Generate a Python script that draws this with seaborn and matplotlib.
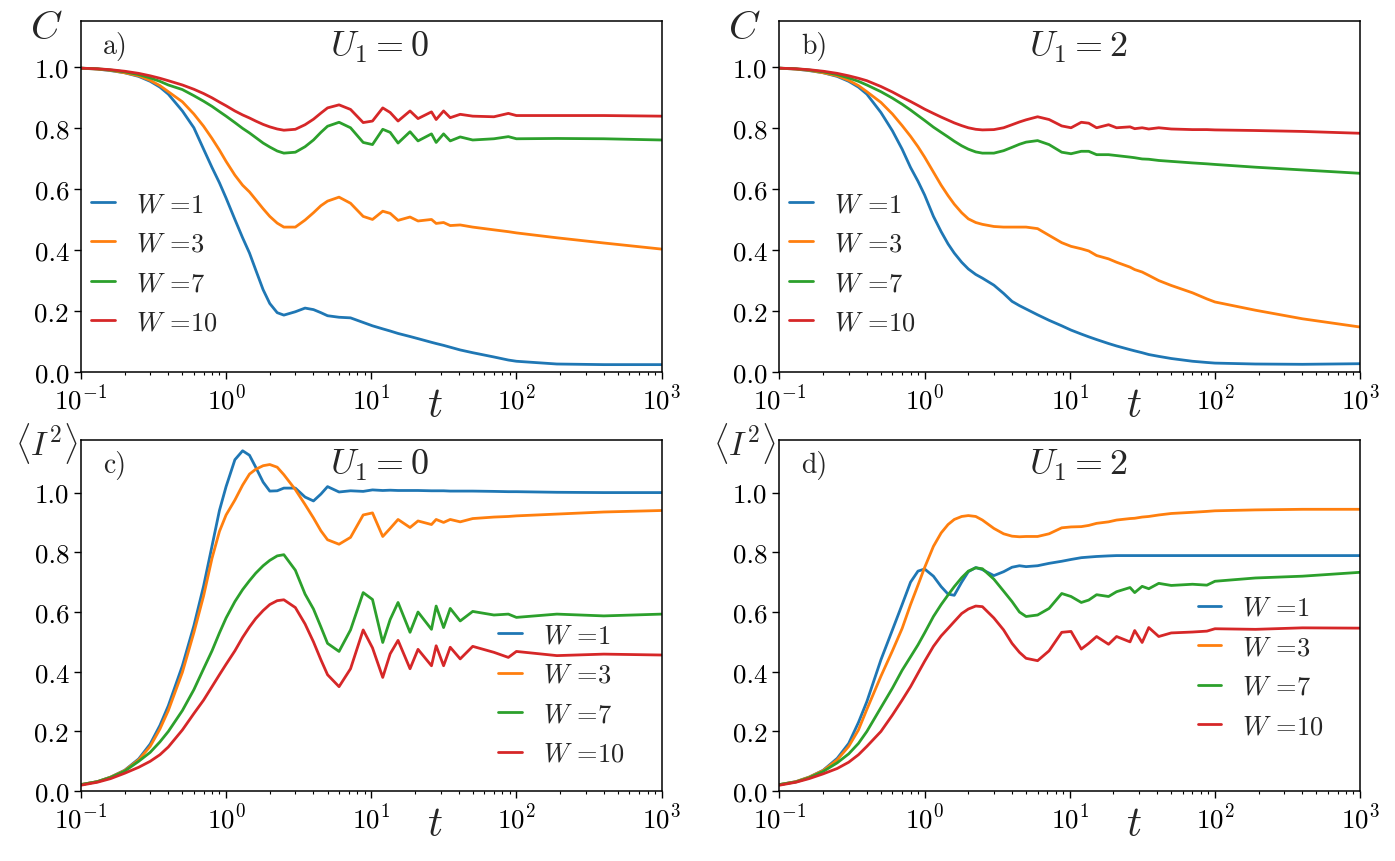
import matplotlib
matplotlib.use("Agg")
import matplotlib.pyplot as plt
import pandas as pd
import seaborn as sns

# time grid (log-spaced sampling)
t_vals = [0.1, 0.13, 0.16, 0.2, 0.25, 0.3, 0.35, 0.4,
          0.5, 0.6, 0.7, 0.8, 0.9, 1.0, 1.15, 1.3,
          1.45, 1.6, 1.8, 2.0, 2.25, 2.5, 3.0, 3.5,
          4.0, 4.5, 5.0, 6.0, 7.2, 8.8, 10.2, 12,
          13.5, 15.3, 18.5, 21, 26, 28, 31.5, 35,
          41, 50, 70, 88, 100, 190, 400, 1000]
w_labels = ["1", "3", "7", "10"]

# a) C, U1 = 0
a_w1 = [0.995, 0.992, 0.987, 0.98, 0.968, 0.952, 0.933, 0.91,
        0.855, 0.8, 0.73, 0.67, 0.62, 0.57, 0.5, 0.44,
        0.39, 0.335, 0.27, 0.225, 0.195, 0.187, 0.198, 0.21,
        0.205, 0.195, 0.185, 0.18, 0.178, 0.163, 0.152, 0.142,
        0.135, 0.127, 0.117, 0.11, 0.098, 0.094, 0.088, 0.082,
        0.073, 0.064, 0.05, 0.04, 0.036, 0.027, 0.025, 0.025]
a_w3 = [0.995, 0.992, 0.988, 0.98, 0.97, 0.955, 0.938, 0.918,
        0.885, 0.845, 0.805, 0.765, 0.727, 0.69, 0.645, 0.612,
        0.59, 0.565, 0.535, 0.51, 0.488, 0.475, 0.475, 0.498,
        0.522, 0.545, 0.56, 0.573, 0.553, 0.51, 0.5, 0.527,
        0.52, 0.497, 0.508, 0.495, 0.5, 0.487, 0.49, 0.48,
        0.482, 0.475, 0.466, 0.46, 0.456, 0.44, 0.423, 0.403]
a_w7 = [0.995, 0.993, 0.989, 0.983, 0.974, 0.963, 0.952, 0.94,
        0.925, 0.905, 0.887, 0.87, 0.853, 0.838, 0.817, 0.798,
        0.783, 0.768, 0.75, 0.737, 0.724, 0.717, 0.72, 0.738,
        0.76, 0.785, 0.805, 0.818, 0.8, 0.752, 0.745, 0.795,
        0.785, 0.75, 0.787, 0.757, 0.78, 0.752, 0.78, 0.757,
        0.77, 0.76, 0.764, 0.771, 0.764, 0.765, 0.764, 0.76]
a_w10 = [0.995, 0.993, 0.99, 0.985, 0.978, 0.97, 0.962, 0.954,
         0.94, 0.926, 0.912, 0.898, 0.884, 0.872, 0.855, 0.842,
         0.832, 0.822, 0.811, 0.803, 0.796, 0.792, 0.795, 0.81,
         0.828, 0.848, 0.865, 0.875, 0.86, 0.817, 0.822, 0.865,
         0.85, 0.822, 0.855, 0.83, 0.852, 0.827, 0.855, 0.833,
         0.844, 0.838, 0.836, 0.847, 0.84, 0.84, 0.84, 0.838]

# b) C, U1 = 2
b_w1 = [0.995, 0.992, 0.987, 0.98, 0.968, 0.952, 0.933, 0.91,
        0.85, 0.79, 0.73, 0.67, 0.625, 0.58, 0.51, 0.46,
        0.42, 0.39, 0.36, 0.338, 0.32, 0.308, 0.285, 0.258,
        0.232, 0.218, 0.207, 0.188, 0.17, 0.152, 0.138, 0.125,
        0.116, 0.107, 0.094, 0.086, 0.074, 0.07, 0.064, 0.058,
        0.052, 0.045, 0.036, 0.032, 0.03, 0.027, 0.026, 0.028]
b_w3 = [0.995, 0.992, 0.988, 0.98, 0.97, 0.955, 0.938, 0.918,
        0.883, 0.845, 0.807, 0.772, 0.738, 0.704, 0.655, 0.612,
        0.578, 0.55, 0.522, 0.502, 0.49, 0.484, 0.477, 0.475,
        0.475, 0.475, 0.475, 0.47, 0.448, 0.424, 0.412, 0.404,
        0.397, 0.382, 0.371, 0.36, 0.344, 0.336, 0.328, 0.317,
        0.3, 0.284, 0.26, 0.24, 0.23, 0.203, 0.175, 0.148]
b_w7 = [0.995, 0.993, 0.989, 0.983, 0.974, 0.963, 0.952, 0.94,
        0.918, 0.897, 0.877, 0.858, 0.84, 0.824, 0.802, 0.785,
        0.77, 0.756, 0.741, 0.73, 0.721, 0.717, 0.717, 0.725,
        0.736, 0.746, 0.753, 0.758, 0.745, 0.72, 0.715, 0.723,
        0.723, 0.712, 0.712, 0.709, 0.704, 0.702, 0.698, 0.697,
        0.693, 0.69, 0.685, 0.682, 0.68, 0.671, 0.662, 0.651]
b_w10 = [0.995, 0.993, 0.99, 0.985, 0.978, 0.97, 0.962, 0.954,
         0.935, 0.917, 0.9, 0.886, 0.873, 0.861, 0.847, 0.835,
         0.825, 0.816, 0.807, 0.8, 0.795, 0.793, 0.794, 0.8,
         0.81, 0.819, 0.826, 0.836, 0.827, 0.806, 0.8, 0.818,
         0.815, 0.8, 0.81, 0.8, 0.803, 0.797, 0.8, 0.796,
         0.8, 0.796, 0.794, 0.794, 0.793, 0.791, 0.788, 0.782]

# c) <I^2>, U1 = 0
c_w1 = [0.022, 0.032, 0.047, 0.07, 0.108, 0.158, 0.22, 0.286,
        0.42, 0.554, 0.687, 0.821, 0.94, 1.02, 1.11, 1.14,
        1.125, 1.085, 1.035, 1.005, 1.006, 1.015, 1.015, 0.985,
        0.972, 0.995, 1.02, 1.002, 1.006, 1.004, 1.009, 1.007,
        1.008, 1.007, 1.007, 1.007, 1.006, 1.006, 1.006, 1.005,
        1.005, 1.005, 1.004, 1.003, 1.003, 1.001, 1.0, 1.0]
c_w3 = [0.022, 0.032, 0.047, 0.069, 0.105, 0.15, 0.208, 0.27,
        0.398, 0.531, 0.654, 0.78, 0.87, 0.925, 0.975, 1.025,
        1.062, 1.078, 1.09, 1.094, 1.085, 1.06, 1.01, 0.96,
        0.915, 0.872, 0.842, 0.827, 0.85, 0.925, 0.932, 0.853,
        0.88, 0.91, 0.883, 0.905, 0.893, 0.91, 0.9, 0.91,
        0.902, 0.913, 0.918, 0.92, 0.922, 0.928, 0.935, 0.94]
c_w7 = [0.022, 0.032, 0.046, 0.067, 0.1, 0.13, 0.165, 0.2,
        0.27, 0.34, 0.41, 0.47, 0.53, 0.58, 0.635, 0.675,
        0.705, 0.73, 0.755, 0.773, 0.788, 0.792, 0.74, 0.66,
        0.61, 0.55, 0.495, 0.468, 0.54, 0.665, 0.642, 0.498,
        0.575, 0.632, 0.532, 0.6, 0.542, 0.62, 0.548, 0.612,
        0.57, 0.602, 0.59, 0.593, 0.582, 0.593, 0.587, 0.593]
c_w10 = [0.02, 0.03, 0.042, 0.06, 0.08, 0.1, 0.122, 0.148,
         0.205, 0.26, 0.305, 0.35, 0.39, 0.425, 0.47, 0.515,
         0.55, 0.578, 0.605, 0.625, 0.638, 0.641, 0.615, 0.56,
         0.5, 0.44, 0.39, 0.35, 0.41, 0.54, 0.48, 0.381,
         0.46, 0.505, 0.41, 0.475, 0.42, 0.487, 0.42, 0.482,
         0.443, 0.485, 0.465, 0.448, 0.468, 0.454, 0.459, 0.456]

# d) <I^2>, U1 = 2
d_w1 = [0.022, 0.032, 0.047, 0.07, 0.11, 0.16, 0.23, 0.3,
        0.44, 0.54, 0.625, 0.7, 0.737, 0.744, 0.72, 0.685,
        0.66, 0.656, 0.7, 0.735, 0.749, 0.742, 0.722, 0.735,
        0.75, 0.755, 0.752, 0.755, 0.763, 0.77, 0.776, 0.782,
        0.784, 0.786, 0.788, 0.789, 0.789, 0.789, 0.789, 0.789,
        0.789, 0.789, 0.789, 0.789, 0.789, 0.789, 0.789, 0.789]
d_w3 = [0.022, 0.032, 0.047, 0.069, 0.105, 0.15, 0.205, 0.274,
        0.385, 0.47, 0.545, 0.625, 0.69, 0.749, 0.82, 0.865,
        0.893, 0.91, 0.92, 0.923, 0.92, 0.908, 0.88, 0.862,
        0.854, 0.852, 0.853, 0.853, 0.862, 0.882, 0.885, 0.886,
        0.89, 0.897, 0.902, 0.908, 0.913, 0.914, 0.918, 0.92,
        0.925, 0.93, 0.934, 0.937, 0.939, 0.942, 0.944, 0.944]
d_w7 = [0.022, 0.031, 0.045, 0.066, 0.095, 0.125, 0.16, 0.2,
        0.28, 0.345, 0.405, 0.45, 0.49, 0.53, 0.585, 0.625,
        0.657, 0.685, 0.715, 0.737, 0.748, 0.745, 0.71, 0.67,
        0.635, 0.6, 0.585, 0.59, 0.612, 0.662, 0.652, 0.632,
        0.64, 0.658, 0.652, 0.668, 0.682, 0.665, 0.686, 0.678,
        0.696, 0.689, 0.693, 0.69, 0.703, 0.714, 0.72, 0.733]
d_w10 = [0.02, 0.03, 0.042, 0.058, 0.076, 0.097, 0.122, 0.15,
         0.2, 0.255, 0.305, 0.35, 0.395, 0.435, 0.485, 0.52,
         0.545, 0.568, 0.595, 0.61, 0.62, 0.618, 0.58, 0.54,
         0.495, 0.465, 0.445, 0.437, 0.47, 0.532, 0.535, 0.476,
         0.495, 0.518, 0.492, 0.518, 0.5, 0.538, 0.498, 0.548,
         0.518, 0.53, 0.533, 0.536, 0.544, 0.542, 0.547, 0.546]

panels = [
    ("a)", r"$U_1 = 0$", r"$C$", [a_w1, a_w3, a_w7, a_w10]),
    ("b)", r"$U_1 = 2$", r"$C$", [b_w1, b_w3, b_w7, b_w10]),
    ("c)", r"$U_1 = 0$", r"$\langle I^2\rangle$", [c_w1, c_w3, c_w7, c_w10]),
    ("d)", r"$U_1 = 2$", r"$\langle I^2\rangle$", [d_w1, d_w3, d_w7, d_w10]),
]

sns.set_theme(style="ticks")
plt.rcParams.update({
    "font.family": "serif",
    "font.serif": ["cmr10"],
    "mathtext.fontset": "cm",
    "axes.formatter.use_mathtext": True,
    "axes.edgecolor": "black",
    "axes.linewidth": 1.1,
    "xtick.color": "black",
    "ytick.color": "black",
    "xtick.major.size": 5,
    "ytick.major.size": 5,
    "xtick.minor.size": 2.5,
    "xtick.major.width": 1,
    "ytick.major.width": 1,
    "xtick.minor.width": 0.8,
})
colors = sns.color_palette("tab10")[:4]

fig, axes = plt.subplots(2, 2, figsize=(13.95, 8.62), dpi=100)
fig.subplots_adjust(left=0.058, right=0.975, top=0.974, bottom=0.081, wspace=0.203, hspace=0.194)

legend_pos = [(0.017, 0.31), (0.017, 0.31), (0.718, 0.275), (0.72, 0.353)]

for k, (ax, (tag, title, ylab, series)) in enumerate(zip(axes.flat, panels)):
    for w, vals, col in zip(w_labels, series, colors):
        df = pd.DataFrame({"t": t_vals, "y": vals})
        sns.lineplot(data=df, x="t", y="y", ax=ax, color=col, linewidth=2,
                     label=r"$W$ =" + w)
    ax.set_xscale("log")
    ax.set_xlim(0.1, 1000)
    ax.set_ylim(0, 1.148 if k < 2 else 1.175)
    ax.set_yticks([0.0, 0.2, 0.4, 0.6, 0.8, 1.0])
    ax.set_yticklabels(["0.0", "0.2", "0.4", "0.6", "0.8", "1.0"])
    ax.tick_params(labelsize=19.5)
    for s in ax.spines.values():
        s.set_visible(True)

    ax.set_xlabel(r"$t$", fontsize=30)
    ax.xaxis.set_label_coords(0.61, -0.04)
    ax.set_ylabel(ylab, fontsize=29 if k < 2 else 24, rotation=0)
    ax.yaxis.set_label_coords(-0.06, 0.93)

    ax.text(0.038, 0.93, tag, transform=ax.transAxes, fontsize=20, va="center", ha="left")
    ax.text(0.515, 0.93, title, transform=ax.transAxes, fontsize=26, va="center", ha="center")

    ax.legend(frameon=False, fontsize=19, handlelength=0.9, handletextpad=0.8,
              labelspacing=0.6, borderpad=0, borderaxespad=0,
              loc="center left", bbox_to_anchor=legend_pos[k])

fig.savefig("out.png", dpi=100)
